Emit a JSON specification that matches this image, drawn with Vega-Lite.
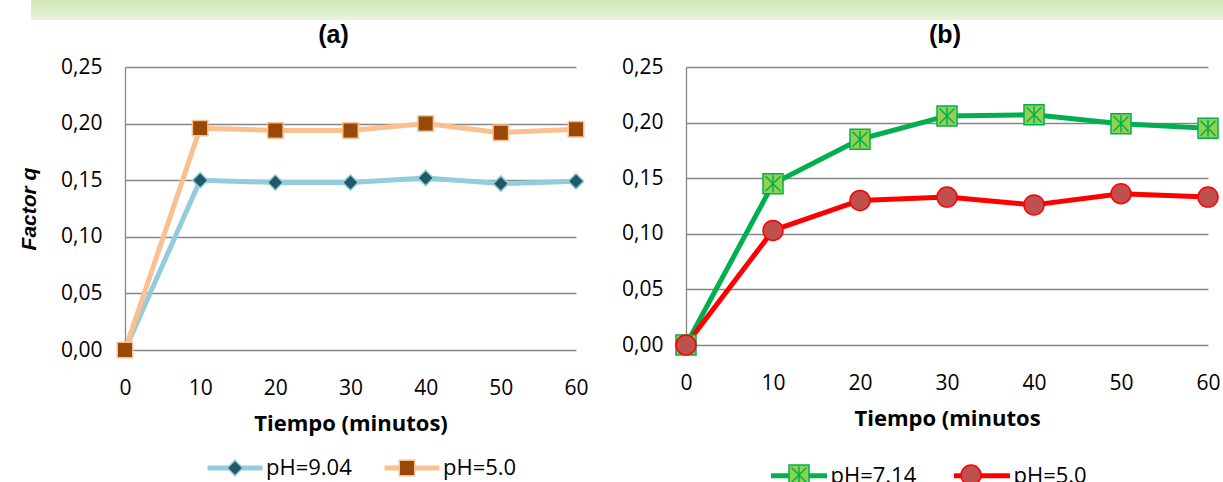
{
  "$schema": "https://vega.github.io/schema/vega-lite/v6.json",
  "background": "white",
  "padding": {"left": 18, "top": 0, "right": 0, "bottom": 0},
  "config": {
    "view": {"stroke": null},
    "font": "Open Sans",
    "axis": {"labelFont": "Open Sans", "labelFontSize": 21, "labelColor": "#000000", "titleColor": "#000000", "ticks": false, "tickSize": 0, "gridColor": "#868686", "gridWidth": 1.3, "domainColor": "#868686", "domainWidth": 1.3, "labelFlush": false},
    "axisX": {"grid": false, "domain": false, "labelPadding": 27, "titleFont": "Open Sans", "titleFontWeight": "bold", "titleFontSize": 22, "titlePadding": 15},
    "axisY": {"grid": true, "domain": true, "labelPadding": 23, "titleFont": "Liberation Sans", "titleFontWeight": "bold", "titleFontStyle": "italic", "titleFontSize": 21, "titlePadding": 21},
    "legend": {"orient": "none", "direction": "horizontal", "title": null, "padding": 0, "labelFont": "Open Sans", "labelFontSize": 22, "labelColor": "#000000", "columnPadding": 22, "symbolOpacity": 1},
    "title": {"font": "Liberation Sans", "fontSize": 25, "fontWeight": "bold", "color": "#000000", "frame": "group", "anchor": "middle", "offset": 8}
  },
  "vconcat": [
    {
      "width": 1099,
      "height": 20,
      "data": {"values": [{"banda": "cabecera"}]},
      "mark": {"type": "rect", "clip": false, "color": {"gradient": "linear", "x1": 0, "y1": 0, "x2": 0, "y2": 1, "stops": [{"offset": 0, "color": "#d2e8b6"}, {"offset": 1, "color": "#e8f3dc"}]}},
      "encoding": {
        "x": {"datum": -0.0855, "type": "quantitative", "scale": {"domain": [0, 1]}, "axis": null},
        "x2": {"datum": 1}
      }
    },
    {
      "hconcat": [
        {
          "width": 451,
          "height": 283,
          "title": {"text": "(a)", "dx": -17},
          "data": {"values": [
            {"t": 0, "q": 0.0, "serie": "pH=9.04"},
            {"t": 10, "q": 0.150, "serie": "pH=9.04"},
            {"t": 20, "q": 0.148, "serie": "pH=9.04"},
            {"t": 30, "q": 0.148, "serie": "pH=9.04"},
            {"t": 40, "q": 0.152, "serie": "pH=9.04"},
            {"t": 50, "q": 0.147, "serie": "pH=9.04"},
            {"t": 60, "q": 0.149, "serie": "pH=9.04"},
            {"t": 0, "q": 0.0, "serie": "pH=5.0"},
            {"t": 10, "q": 0.196, "serie": "pH=5.0"},
            {"t": 20, "q": 0.194, "serie": "pH=5.0"},
            {"t": 30, "q": 0.194, "serie": "pH=5.0"},
            {"t": 40, "q": 0.200, "serie": "pH=5.0"},
            {"t": 50, "q": 0.192, "serie": "pH=5.0"},
            {"t": 60, "q": 0.195, "serie": "pH=5.0"}
          ]},
          "encoding": {
            "x": {"field": "t", "type": "quantitative", "scale": {"domain": [0, 60]}, "axis": {"values": [0, 10, 20, 30, 40, 50, 60], "title": "Tiempo (minutos)"}},
            "y": {"field": "q", "type": "quantitative", "scale": {"domain": [0, 0.25]}, "axis": {"values": [0, 0.05, 0.1, 0.15, 0.2, 0.25], "labelExpr": "replace(format(datum.value, '.2f'), '.', ',')", "title": "Factor q"}}
          },
          "layer": [
            {
              "mark": {"type": "line", "strokeWidth": 5, "strokeJoin": "round"},
              "encoding": {
                "stroke": {"field": "serie", "type": "nominal", "scale": {"domain": ["pH=9.04", "pH=5.0"], "range": ["#93cddd", "#fac090"]},
                  "legend": {"legendX": 80, "legendY": 371, "symbolType": "stroke", "symbolSize": 3025, "symbolStrokeWidth": 5, "labelOffset": 1}}
              }
            },
            {
              "mark": {"type": "point", "filled": true, "opacity": 1, "size": 240, "strokeWidth": 1.5},
              "encoding": {
                "fill": {"field": "serie", "type": "nominal", "sort": "descending", "scale": {"range": ["#215968", "#984807"]},
                  "legend": {"legendX": 99, "legendY": 390, "symbolSize": 240, "symbolStrokeWidth": 1.5, "labelOffset": 20, "labelOpacity": 0, "columnPadding": 44}},
                "shape": {"field": "serie", "type": "nominal", "sort": "descending", "scale": {"range": ["diamond", "square"]},
                  "legend": {"legendX": 99, "legendY": 390, "symbolSize": 240, "symbolStrokeWidth": 1.5, "labelOffset": 20, "labelOpacity": 0, "columnPadding": 44}},
                "stroke": {"field": "serie", "type": "nominal", "sort": "descending", "scale": {"range": ["#93cddd", "#fac090"]},
                  "legend": {"legendX": 99, "legendY": 390, "symbolSize": 240, "symbolStrokeWidth": 1.5, "labelOffset": 20, "labelOpacity": 0, "columnPadding": 44}}
              }
            }
          ],
          "resolve": {"scale": {"stroke": "independent", "fill": "independent", "shape": "independent"}}
        },
        {
          "width": 522,
          "height": 278,
          "title": {"text": "(b)", "dx": -2},
          "data": {"values": [
            {"t": 0, "q": 0.0, "serie": "pH=7.14"},
            {"t": 10, "q": 0.145, "serie": "pH=7.14"},
            {"t": 20, "q": 0.185, "serie": "pH=7.14"},
            {"t": 30, "q": 0.206, "serie": "pH=7.14"},
            {"t": 40, "q": 0.207, "serie": "pH=7.14"},
            {"t": 50, "q": 0.199, "serie": "pH=7.14"},
            {"t": 60, "q": 0.195, "serie": "pH=7.14"},
            {"t": 0, "q": 0.0, "serie": "pH=5.0"},
            {"t": 10, "q": 0.103, "serie": "pH=5.0"},
            {"t": 20, "q": 0.130, "serie": "pH=5.0"},
            {"t": 30, "q": 0.133, "serie": "pH=5.0"},
            {"t": 40, "q": 0.126, "serie": "pH=5.0"},
            {"t": 50, "q": 0.136, "serie": "pH=5.0"},
            {"t": 60, "q": 0.133, "serie": "pH=5.0"}
          ]},
          "encoding": {
            "x": {"field": "t", "type": "quantitative", "scale": {"domain": [0, 60]}, "axis": {"values": [0, 10, 20, 30, 40, 50, 60], "title": "Tiempo (minutos"}},
            "y": {"field": "q", "type": "quantitative", "scale": {"domain": [0, 0.25]}, "axis": {"values": [0, 0.05, 0.1, 0.15, 0.2, 0.25], "labelExpr": "replace(format(datum.value, '.2f'), '.', ',')", "title": null}}
          },
          "layer": [
            {
              "mark": {"type": "line", "strokeWidth": 5, "strokeJoin": "round"},
              "encoding": {
                "stroke": {"field": "serie", "type": "nominal", "scale": {"domain": ["pH=7.14", "pH=5.0"], "range": ["#00b050", "#ff0000"]},
                  "legend": {"legendX": 82.5, "legendY": 378, "symbolType": "stroke", "symbolSize": 3136, "symbolStrokeWidth": 5, "labelOffset": 1, "columnPadding": 27}}
              }
            },
            {
              "mark": {"type": "point", "filled": true, "opacity": 1, "size": 400, "strokeWidth": 1.5},
              "encoding": {
                "fill": {"field": "serie", "type": "nominal", "sort": "descending", "scale": {"range": ["#92d050", "#c0504d"]},
                  "legend": {"legendX": 102, "legendY": 397, "symbolSize": 400, "symbolStrokeWidth": 1.5, "labelOffset": 20.5, "labelOpacity": 0, "columnPadding": 41}},
                "shape": {"field": "serie", "type": "nominal", "sort": "descending", "scale": {"range": ["M-1,-1H1V1H-1Z M-0.75,-0.75L0.75,0.75 M0.75,-0.75L-0.75,0.75 M0,-0.85V0.85", "circle"]},
                  "legend": {"legendX": 102, "legendY": 397, "symbolSize": 400, "symbolStrokeWidth": 1.5, "labelOffset": 20.5, "labelOpacity": 0, "columnPadding": 41}},
                "stroke": {"field": "serie", "type": "nominal", "sort": "descending", "scale": {"range": ["#00b050", "#ff0000"]},
                  "legend": {"legendX": 102, "legendY": 397, "symbolSize": 400, "symbolStrokeWidth": 1.5, "labelOffset": 20.5, "labelOpacity": 0, "columnPadding": 41}}
              }
            }
          ],
          "resolve": {"scale": {"stroke": "independent", "fill": "independent", "shape": "independent"}}
        }
      ],
      "spacing": 32
    }
  ],
  "spacing": 3
}
